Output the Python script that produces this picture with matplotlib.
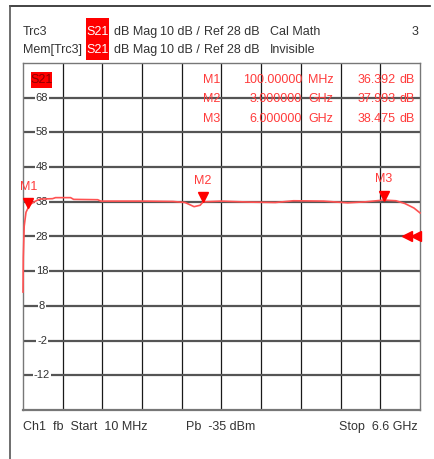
import numpy as np
import matplotlib
matplotlib.use('Agg')
import matplotlib.pyplot as plt
import matplotlib.transforms as mtransforms

plt.rcParams['font.family'] = ['Liberation Sans', 'DejaVu Sans']

# trace S21 (dB) w funkcji czestotliwosci (GHz)
freq_ghz = [0.01, 0.015, 0.03, 0.06, 0.10, 0.15, 0.25, 0.30, 0.50, 0.55, 0.80, 0.85,
            1.25, 1.30, 2.00, 2.50, 2.70, 2.85, 2.95, 3.00, 3.30, 3.80, 4.20, 4.50,
            5.00, 5.40, 5.70, 6.00, 6.20, 6.35, 6.50, 6.60]
s21_db = [12.0, 22.0, 31.0, 35.0, 36.4, 37.5, 38.5, 38.8, 38.9, 39.2, 39.2, 38.7,
          38.6, 38.2, 38.2, 38.1, 37.8, 36.6, 37.0, 38.0, 38.2, 37.9, 37.8, 38.3,
          38.2, 37.7, 38.0, 38.5, 38.3, 37.5, 36.2, 34.8]

# markery
marker_names = ['M1', 'M2', 'M3']
marker_freq = [0.1, 3.0, 6.0]
marker_freq_txt = ['100.00000', '3.000000', '6.000000']
marker_unit = ['MHz', 'GHz', 'GHz']
marker_val = [36.392, 37.993, 38.475]

y_ticks = [68, 58, 48, 38, 28, 18, 8, -2, -12]
ref_level = 28
f_start, f_stop = 0.01, 6.6
y_min, y_max = -22, 78

W, H = 435, 459
fig = plt.figure(figsize=(W / 100, H / 100), dpi=100)
fig.patch.set_facecolor('white')
fs = 9
txt_col = '#333333'


def fx(px):
    return px / W


def fy(py):
    return 1 - py / H


ax = fig.add_axes([fx(23), fy(410), fx(420) - fx(23), fy(63) - fy(410)])
ax.set_xlim(f_start, f_stop)
ax.set_ylim(y_min, y_max)
ax.set_xticks([])
ax.set_yticks([])
for s in ax.spines.values():
    s.set_color('#777777')
    s.set_linewidth(1.0)
ax.spines['bottom'].set_linewidth(1.6)

# siatka
for xv in np.linspace(f_start, f_stop, 11)[1:-1]:
    ax.axvline(xv, color='#1a1a1a', lw=0.9, zorder=1)
for yv in y_ticks:
    ax.axhline(yv, color='#555555', lw=1.6, zorder=1)

blend = mtransforms.blended_transform_factory(ax.transAxes, ax.transData)
red = '#ff3b3b'
for yv in y_ticks:
    ax.text(0.048, yv, str(yv), transform=blend, ha='center', va='center',
            fontsize=8, color='#333333', zorder=3,
            bbox=dict(facecolor='white', edgecolor='none', pad=0.6))

# trace
ax.plot(freq_ghz, s21_db, color='#ff5252', lw=1.2, zorder=4, clip_on=False)

# markery (trojkaty + etykiety)
for name, f, v in zip(marker_names, marker_freq, marker_val):
    ax.plot([f], [v + 1.3], marker='v', color='#ff0000', markersize=7, zorder=5,
            clip_on=False)
    ax.annotate(name, (f, v), xytext=(0, 15), textcoords='offset points',
                ha='center', va='center', fontsize=fs, color=red, zorder=5,
                annotation_clip=False)

# poziom odniesienia
for xa in (0.968, 0.99):
    ax.plot([xa], [ref_level], marker='<', color='#ff0000', markersize=7,
            transform=blend, clip_on=False, zorder=5)

# tabela markerow
row_y = [80, 99, 119]
for i in range(3):
    ty = fy(row_y[i])
    fig.text(fx(220), ty, marker_names[i], ha='right', va='center', fontsize=fs, color=red, zorder=6)
    fig.text(fx(302), ty, marker_freq_txt[i], ha='right', va='center', fontsize=fs, color=red, zorder=6)
    fig.text(fx(308), ty, marker_unit[i], ha='left', va='center', fontsize=fs, color=red, zorder=6)
    fig.text(fx(396), ty, '%.3f' % marker_val[i], ha='right', va='center', fontsize=fs, color=red, zorder=6)
    fig.text(fx(400), ty, 'dB', ha='left', va='center', fontsize=fs, color=red, zorder=6)

# etykieta S21 w polu wykresu
fig.patches.append(plt.Rectangle((fx(31), fy(88)), fx(52) - fx(31), fy(72) - fy(88),
                                 transform=fig.transFigure, facecolor='#ff0000',
                                 edgecolor='none', zorder=5))
fig.text(fx(41.5), fy(80), 'S21', ha='center', va='center', fontsize=fs, color='#8b0000', zorder=6)

# naglowek
hy1, hy2 = fy(32), fy(50)
fig.text(fx(23), hy1, 'Trc3', va='center', fontsize=fs, color=txt_col)
fig.text(fx(23), hy2, 'Mem[Trc3]', va='center', fontsize=fs, color=txt_col)
fig.patches.append(plt.Rectangle((fx(86), fy(60)), fx(109) - fx(86), fy(18) - fy(60),
                                 transform=fig.transFigure, facecolor='#ff0000',
                                 edgecolor='none'))
for hy in (hy1, hy2):
    fig.text(fx(97.5), hy, 'S21', ha='center', va='center', fontsize=fs, color='white')
    fig.text(fx(114), hy, 'dB Mag', va='center', fontsize=fs, color=txt_col)
    fig.text(fx(160), hy, '10 dB /', va='center', fontsize=fs, color=txt_col)
    fig.text(fx(204), hy, 'Ref 28 dB', va='center', fontsize=fs, color=txt_col)
fig.text(fx(270), hy1, 'Cal Math', va='center', fontsize=fs, color=txt_col)
fig.text(fx(270), hy2, 'Invisible', va='center', fontsize=fs, color=txt_col)
fig.text(fx(418), hy1, '3', ha='right', va='center', fontsize=fs, color=txt_col)

# stopka
by = fy(427)
fig.text(fx(23), by, 'Ch1  fb  Start  10 MHz', va='center', fontsize=fs, color=txt_col)
fig.text(fx(186), by, 'Pb  -35 dBm', va='center', fontsize=fs, color=txt_col)
fig.text(fx(418), by, 'Stop  6.6 GHz', ha='right', va='center', fontsize=fs, color=txt_col)

# ramka zewnetrzna
fig.add_artist(plt.Line2D([fx(10), fx(430)], [fy(6), fy(6)], color='#222222', lw=1.2))
fig.add_artist(plt.Line2D([fx(10), fx(10)], [fy(6), 0], color='#555555', lw=1.2))

fig.savefig('out.png', dpi=100)
